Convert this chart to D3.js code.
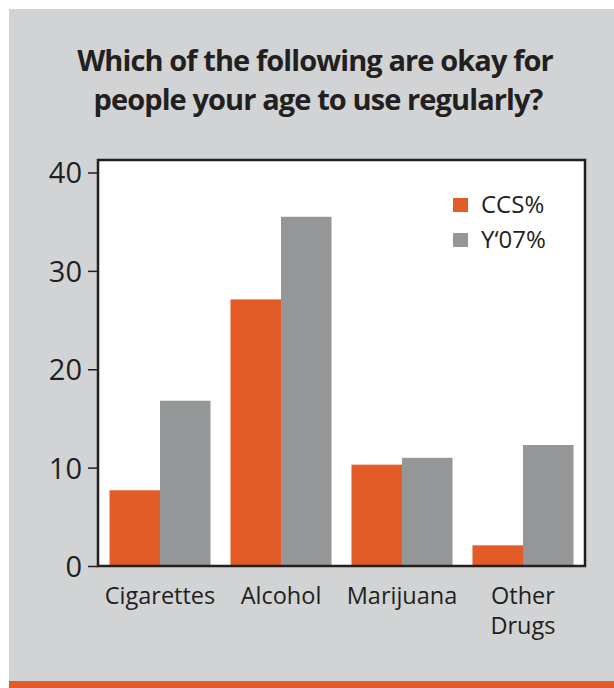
<!DOCTYPE html>
<html><head><meta charset="utf-8">
<script src="https://cdn.jsdelivr.net/npm/d3@7"></script>
<style>html,body{margin:0;padding:0;background:#fff;}svg{display:block;}</style>
</head><body>
<script>
const categories = ["Cigarettes", "Alcohol", "Marijuana", "Other Drugs"];
const ccsValues = [7.7, 27.1, 10.3, 2.1];
const y07Values = [16.8, 35.5, 11.0, 12.3];
const seriesNames = ["CCS%", "Y\u201807%"];
const yTicks = [0, 10, 20, 30, 40];
const titleLines = ["Which of the following are okay for", "people your age to use regularly?"];

const W = 614, H = 688;
const colors = ["#e35b26", "#959698"];
const textColor = "#231f20";
const font = "'Open Sans', 'Noto Sans', sans-serif";

const svg = d3.select("body").append("svg").attr("width", W).attr("height", H);
svg.append("rect").attr("x", 0).attr("y", 0).attr("width", W).attr("height", H).attr("fill", "#fff");
svg.append("rect").attr("x", 9).attr("y", 9).attr("width", W - 9).attr("height", H - 9).attr("fill", "#d1d3d4");
svg.append("rect").attr("x", 9).attr("y", 681).attr("width", W - 9).attr("height", 7).attr("fill", colors[0]);

// Title
const title = svg.append("g").attr("font-family", font).attr("font-weight", 700).attr("fill", textColor)
  .attr("text-anchor", "middle").attr("font-size", 29).attr("letter-spacing", "-0.9px");
const t1 = title.append("text").attr("x", 315).attr("y", 71).text(titleLines[0]);
const w1 = t1.node().getComputedTextLength();
if (w1 > 485) t1.attr("textLength", 482).attr("lengthAdjust", "spacing");
const t2 = title.append("text").attr("x", 318).attr("y", 110).text(titleLines[1]);
const w2 = t2.node().getComputedTextLength();
if (w2 > 455) t2.attr("textLength", 452).attr("lengthAdjust", "spacing");

// Plot
const pL = 98, pR = 585, pT = 160, pB = 566;
const y = d3.scaleLinear().domain([0, 40]).range([pB, 172.5]);
const x0 = d3.scaleBand().domain(categories).range([pL, pR]).paddingInner(0.165).paddingOuter(0.095);
const x1 = d3.scaleBand().domain(seriesNames).range([0, x0.bandwidth()]);

svg.append("rect").attr("x", pL).attr("y", pT).attr("width", pR - pL).attr("height", pB - pT).attr("fill", "#fff");

const rows = categories.map((c, i) => ({cat: c, vals: [ccsValues[i], y07Values[i]]}));
const groups = svg.append("g").selectAll("g").data(rows).join("g")
  .attr("transform", d => `translate(${x0(d.cat)},0)`);
groups.selectAll("rect").data(d => d.vals.map((v, j) => ({s: seriesNames[j], v, j}))).join("rect")
  .attr("x", d => x1(d.s)).attr("width", x1.bandwidth())
  .attr("y", d => y(d.v)).attr("height", d => y(0) - y(d.v))
  .attr("fill", d => colors[d.j]);

// frame
svg.append("rect").attr("x", pL).attr("y", pT).attr("width", pR - pL).attr("height", pB - pT)
  .attr("fill", "none").attr("stroke", textColor).attr("stroke-width", 2.5);

// y axis
const ax = svg.append("g").attr("transform", `translate(${pL},0)`)
  .call(d3.axisLeft(y).tickValues(yTicks).tickSize(10).tickPadding(6));
ax.select(".domain").remove();
ax.selectAll(".tick line").attr("stroke", textColor).attr("stroke-width", 1.5);
ax.selectAll(".tick text").attr("font-family", font).attr("font-size", 29).attr("fill", textColor).attr("dy", "0.36em");

// x labels
const xl = svg.append("g").attr("font-family", font).attr("font-size", 23.5).attr("fill", textColor).attr("text-anchor", "middle");
categories.forEach(c => {
  const words = c.split(" ");
  words.forEach((w, i) => xl.append("text")
    .attr("x", x0(c) + x0.bandwidth() / 2).attr("y", 604 + i * 30).text(w));
});

// legend
const lg = svg.append("g").attr("font-family", font).attr("font-size", 24).attr("fill", textColor);
seriesNames.forEach((s, i) => {
  lg.append("rect").attr("x", 453).attr("y", 198 + i * 35).attr("width", 15).attr("height", 14).attr("fill", colors[i]);
  lg.append("text").attr("x", 481).attr("y", 213 + i * 35).text(s);
});
</script>
</body></html>
